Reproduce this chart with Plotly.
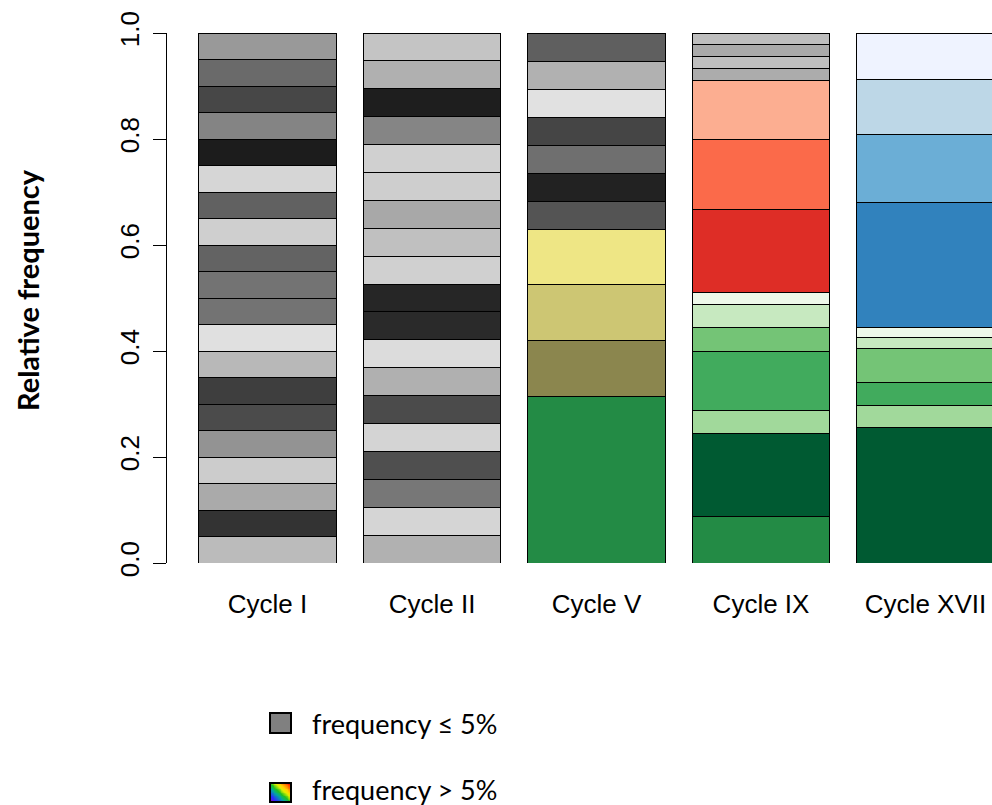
import plotly.graph_objects as go

# Cycle names and their bar centres (R barplot layout: width 1, space 0.2)
cycles = ["Cycle I", "Cycle II", "Cycle V", "Cycle IX", "Cycle XVII"]
centers = [0.7, 1.9, 3.1, 4.3, 5.5]

# Relative frequencies of each variant, listed from the bottom of the bar up
freq_I = [0.05] * 20
freq_II = [1 / 19] * 19
freq_V = [0.315, 0.105, 0.105, 0.104] + [0.053] * 7
freq_IX = [0.088, 0.157, 0.043, 0.112, 0.045, 0.043, 0.022,
           0.157, 0.133, 0.110, 0.023, 0.022, 0.023, 0.022]
freq_XVII = [0.255, 0.043, 0.042, 0.064, 0.021, 0.020,
             0.236, 0.127, 0.105, 0.087]

# Segment fills, bottom to top
col_I = ["#bbbbbb", "#333333", "#aaaaaa", "#cccccc", "#939393", "#4b4b4b",
         "#3e3e3e", "#b8b8b8", "#e0e0e0", "#737373", "#737373", "#636363",
         "#cfcfcf", "#616161", "#d6d6d6", "#1c1c1c", "#848484", "#474747",
         "#6a6a6a", "#999999"]
col_II = ["#b1b1b1", "#d5d5d5", "#777777", "#4f4f4f", "#d4d4d4", "#4b4b4b",
          "#b0b0b0", "#dcdcdc", "#2a2a2a", "#262626", "#d0d0d0", "#c0c0c0",
          "#a8a8a8", "#cecece", "#d0d0d0", "#858585", "#1e1e1e", "#b0b0b0",
          "#c4c4c4"]
col_V = ["#238b45", "#8b864e", "#cdc673", "#eee685",
         "#545454", "#222222", "#6f6f6f", "#454545", "#e1e1e1", "#b1b1b1",
         "#5f5f5f"]
col_IX = ["#238b45", "#005a32", "#a1d99b", "#41ab5d", "#74c476", "#c7e9c0",
          "#edf8e9", "#de2d26", "#fb6a4a", "#fcae91",
          "#acacac", "#bfbfbf", "#a9a9a9", "#bdbdbd"]
col_XVII = ["#005a32", "#a1d99b", "#41ab5d", "#74c476", "#c7e9c0", "#edf8e9",
            "#3182bd", "#6baed6", "#bdd7e7", "#eff3ff"]

freqs = [freq_I, freq_II, freq_V, freq_IX, freq_XVII]
fills = [col_I, col_II, col_V, col_IX, col_XVII]

# Legend entries
legend_labels = ["frequency \u2264 5%", "frequency > 5%"]

W, H = 992, 805


def px_x(p):
    return p / W


def px_y(p):
    return (H - p) / H


fig = go.Figure()

for c, vals, cols in zip(centers, freqs, fills):
    for v, col in zip(vals, cols):
        fig.add_trace(go.Bar(
            x=[c], y=[v], width=1.0,
            marker=dict(color=col, line=dict(color="black", width=1)),
            showlegend=False, hoverinfo="skip",
        ))

# Rainbow swatch for the "> 5%" legend entry
n = 24
grad = [[(n - 1 - i) + j for j in range(n)] for i in range(n)]
fig.add_trace(go.Heatmap(
    z=grad, xaxis="x2", yaxis="y2", showscale=False, hoverinfo="skip",
    colorscale=[[0.0, "#8a00c8"], [0.15, "#2a2aff"], [0.35, "#00a8a0"],
                [0.48, "#20c020"], [0.62, "#e0f000"], [0.72, "#ffd000"],
                [0.85, "#ff7000"], [1.0, "#ff0000"]],
))

axis_font = dict(family="Liberation Sans, Arial, sans-serif", size=26, color="black")

fig.update_layout(
    width=W, height=H,
    margin=dict(l=0, r=0, t=0, b=0, autoexpand=False),
    paper_bgcolor="white", plot_bgcolor="white",
    barmode="stack",
    xaxis=dict(
        domain=[px_x(167), 1.0],
        range=[-0.0334, 5.985],
        tickvals=centers, ticktext=cycles,
        ticks="", showline=False, showgrid=False, zeroline=False,
        tickfont=axis_font, ticklabelstandoff=23, automargin=False,
    ),
    yaxis=dict(
        domain=[px_y(563), px_y(33)],
        range=[0, 1],
        tickvals=[0, 0.2, 0.4, 0.6, 0.8, 1.0],
        ticktext=["0.0", "0.2", "0.4", "0.6", "0.8", "1.0"],
        tickangle=-90, ticks="outside", ticklen=13, tickcolor="black",
        showline=True, linecolor="black", linewidth=1,
        showgrid=False, zeroline=False,
        tickfont=axis_font, ticklabelstandoff=4, automargin=False,
    ),
    xaxis2=dict(domain=[px_x(270), px_x(291)], visible=False,
                range=[-0.5, n - 0.5], anchor="y2", automargin=False),
    yaxis2=dict(domain=[px_y(802), px_y(783)], visible=False,
                range=[n - 0.5, -0.5], anchor="x2", automargin=False),
)

# Y-axis title
fig.add_annotation(
    text="<b>Relative frequency</b>", textangle=-90,
    xref="paper", yref="paper", x=px_x(27), y=px_y(290),
    xanchor="center", yanchor="middle",
    showarrow=False, font=dict(family="Lato, sans-serif", size=29, color="black"),
)

# Legend swatches and labels
fig.add_shape(type="rect", xref="paper", yref="paper",
              x0=px_x(270), x1=px_x(291), y0=px_y(733), y1=px_y(713),
              fillcolor="#808080", line=dict(color="black", width=2))
fig.add_shape(type="rect", xref="paper", yref="paper",
              x0=px_x(270), x1=px_x(291), y0=px_y(802), y1=px_y(783),
              fillcolor="rgba(0,0,0,0)", line=dict(color="black", width=2))
for lbl, yc in zip(legend_labels, [723, 789]):
    fig.add_annotation(
        text=lbl, xref="paper", yref="paper", x=px_x(310), y=px_y(yc),
        xanchor="left", yanchor="middle", showarrow=False,
        font=dict(family="Lato, sans-serif", size=27, color="black"),
    )

fig.write_html("out.html")
